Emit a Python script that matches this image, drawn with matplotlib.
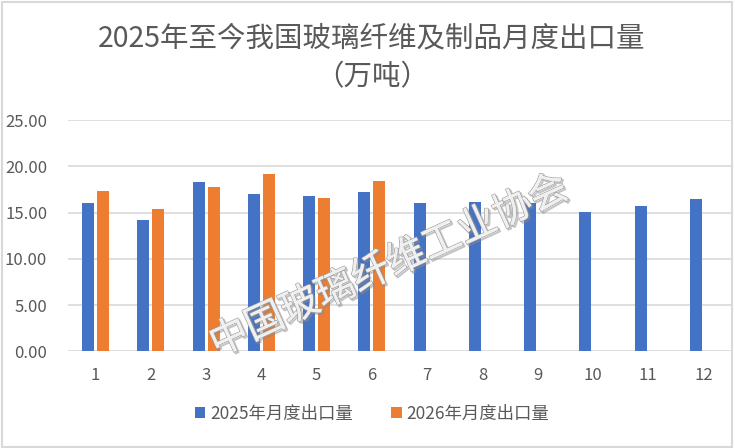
import matplotlib
matplotlib.use("Agg")
import matplotlib.pyplot as plt
import matplotlib.patheffects as pe
from matplotlib.patches import Rectangle
import numpy as np

plt.rcParams['font.family'] = ['Noto Sans CJK SC', 'DejaVu Sans']

months = ['1', '2', '3', '4', '5', '6', '7', '8', '9', '10', '11', '12']
exports_2025 = [16.0, 14.16, 18.27, 16.97, 16.76, 17.19, 16.0, 16.11, 16.07, 15.03, 15.68, 16.43]
exports_2026 = [17.30, 15.35, 17.73, 19.14, 16.54, 18.38]
series_names = ['2025年月度出口量', '2026年月度出口量']
y_ticks = [0, 5, 10, 15, 20, 25]
title_line1 = '2025年至今我国玻璃纤维及制品月度出口量'
title_line2 = '（万吨）'
watermark = '中国玻璃纤维工业协会'

W, H = 735, 448
fig = plt.figure(figsize=(W / 100, H / 100), dpi=100)
ax = fig.add_axes([68 / W, 1 - 351.3 / H, (731 - 68) / W, (351.3 - 120) / H])

x = np.arange(1, len(months) + 1)
bw = 0.217
off = 0.136
c_blue = '#4472C4'
c_orange = '#ED7D31'
ax.bar(x - off, exports_2025, width=bw, color=c_blue, label=series_names[0], zorder=3)
ax.bar(x[:len(exports_2026)] + off, exports_2026, width=bw, color=c_orange, label=series_names[1], zorder=3)

ax.set_xlim(0.5, 12.5)
ax.set_ylim(0, 25)
ax.set_yticks(y_ticks)
ax.set_yticklabels([f'{v:.2f}' for v in y_ticks])
ax.set_xticks(x)
ax.set_xticklabels(months)
ax.grid(axis='y', color='#d9d9d9', linewidth=1.2, zorder=0)
ax.set_axisbelow(True)
for s in ax.spines.values():
    s.set_visible(False)
ax.tick_params(axis='both', length=0, colors='#595959', labelsize=12)
ax.tick_params(axis='y', pad=15)
ax.tick_params(axis='x', pad=11)

fig.text(372 / W, 1 - 38 / H, title_line1, ha='center', va='center', fontsize=20.5, color='#595959')
fig.text(372 / W, 1 - 77 / H, title_line2, ha='center', va='center', fontsize=20.5, color='#595959')

leg = fig.legend(loc='center', bbox_to_anchor=(372 / W, 1 - 414 / H), ncol=2, frameon=False,
                 fontsize=12.5, handlelength=0.6, handleheight=0.6, handletextpad=0.3,
                 columnspacing=2.2, labelcolor='#595959')

fig.text(389 / W, 1 - 266 / H, watermark, ha='center', va='center', fontsize=28,
         fontweight='light', rotation=24.4, color='#f0f0f0', zorder=10,
         path_effects=[pe.SimpleLineShadow(offset=(1.2, -1.2), shadow_color='#8a8a8a', alpha=0.5, linewidth=1.5),
                       pe.withStroke(linewidth=1.2, foreground='#a6a6a6'),
                       pe.Normal()])

fig.patches.append(Rectangle((1.5 / W, 1.5 / H), (732 - 1.5) / W, (446 - 1.5) / H,
                             transform=fig.transFigure, fill=False, edgecolor='#d9d9d9', linewidth=1.5))

fig.savefig('out.png', dpi=100)
